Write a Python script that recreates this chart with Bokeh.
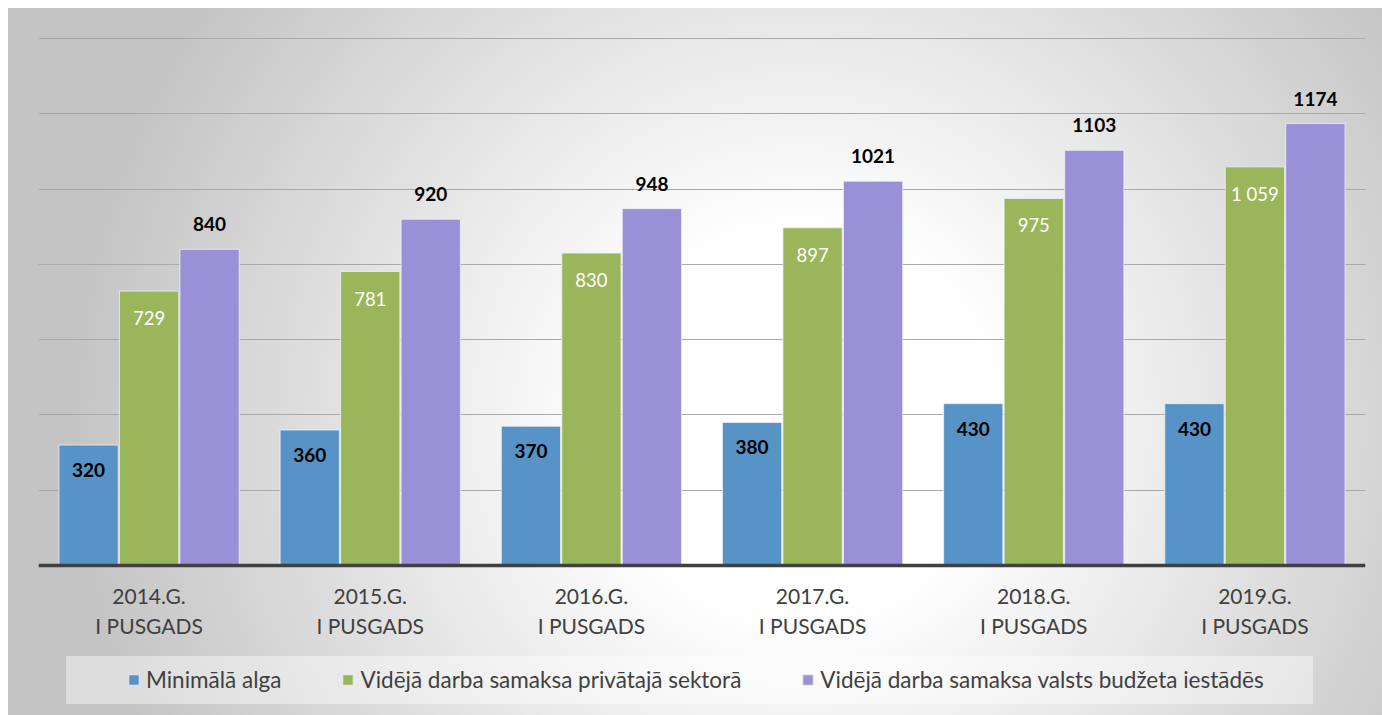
from bokeh.plotting import figure
from bokeh.models import ColumnDataSource, Range1d, FixedTicker, Legend, LegendItem, CategoricalAxis
from bokeh.transform import dodge
from bokeh.core.properties import value
from bokeh.embed import file_html
from bokeh.resources import INLINE

categories = ["2014.G.\nI PUSGADS", "2015.G.\nI PUSGADS", "2016.G.\nI PUSGADS",
              "2017.G.\nI PUSGADS", "2018.G.\nI PUSGADS", "2019.G.\nI PUSGADS"]
minimala_alga = [320, 360, 370, 380, 430, 430]
privatais = [729, 781, 830, 897, 975, 1059]
budzeta = [840, 920, 948, 1021, 1103, 1174]
privatais_labels = ["729", "781", "830", "897", "975", "1 059"]
grid_ticks = [200, 400, 600, 800, 1000, 1200, 1400]
series_names = ["Minimālā alga",
                "Vidējā darba samaksa privātajā sektorā",
                "Vidējā darba samaksa valsts budžeta iestādēs"]
colors = ["#5793c7", "#9bb65a", "#9a90d8"]

src = ColumnDataSource(dict(cat=categories, a=minimala_alga, b=privatais, c=budzeta,
                            a_lab=[str(v) for v in minimala_alga],
                            b_lab=privatais_labels,
                            c_lab=[str(v) for v in budzeta]))

W, H = 1382, 715
BASE = 565                      # pixel row of the zero line
scale = (BASE - 38) / 1400      # pixels per unit
FRAME_TOP = 36
y_max = (BASE - FRAME_TOP) / scale
y_min = -(H - BASE) / scale     # room under the zero line for the labels and the legend

bg = ("linear-gradient(rgba(255,255,255,0.42), rgba(255,255,255,0.42)) 66px 656px / 1247px 48px no-repeat, "
      "radial-gradient(circle 730px at 792px 415px, #ffffff 190px, #c4c4c4 730px) 8px 8px / 1374px 707px no-repeat, "
      "#ffffff")

p = figure(x_range=categories, y_range=Range1d(y_min, y_max), width=W, height=H,
           output_backend="svg", toolbar_location=None, y_axis_location=None, x_axis_location=None,
           min_border_left=38, min_border_right=17, min_border_top=FRAME_TOP, min_border_bottom=0,
           styles={"background": bg})
p.border_fill_color = None
p.background_fill_color = None
p.outline_line_color = None

off = 0.2735
bw = 0.268
rs = []
for key, o, col in [("a", -off, colors[0]), ("b", 0.0, colors[1]), ("c", off, colors[2])]:
    r = p.vbar(x=dodge("cat", o, range=p.x_range), top=key, width=bw, source=src,
               fill_color=col, line_color="#eef0f6", line_width=1, line_alpha=0.8)
    rs.append(r)

p.text(x=dodge("cat", -off, range=p.x_range), y="a", text="a_lab", source=src,
       y_offset=25, text_align="center", text_baseline="middle",
       text_font=value("Lato"), text_font_style="bold", text_font_size="19px", text_color="#000000")
p.text(x=dodge("cat", 0.0, range=p.x_range), y="b", text="b_lab", source=src,
       y_offset=27, text_align="center", text_baseline="middle",
       text_font=value("Lato"), text_font_size="18.5px", text_color="#ffffff")
p.text(x=dodge("cat", off, range=p.x_range), y="c", text="c_lab", source=src,
       y_offset=-25, text_align="center", text_baseline="middle",
       text_font=value("Lato"), text_font_style="bold", text_font_size="19px", text_color="#000000")

p.xgrid.grid_line_color = None
p.ygrid.ticker = FixedTicker(ticks=grid_ticks)
p.ygrid.grid_line_color = "#a9a9a9"
p.ygrid.grid_line_width = 1

ax = CategoricalAxis(fixed_location=0)
ax.axis_line_color = "#404040"
ax.axis_line_width = 3.5
ax.major_tick_line_color = None
ax.minor_tick_line_color = None
ax.major_label_standoff = 11
ax.major_label_text_font = "Lato"
ax.major_label_text_font_size = "21px"
ax.major_label_text_color = "#404040"
ax.major_label_text_line_height = 1.2
p.add_layout(ax, "below")

legend = Legend(items=[LegendItem(label=series_names[i], renderers=[rs[i]]) for i in range(3)],
                orientation="horizontal", location=(89, 22),
                glyph_width=13, glyph_height=13, label_standoff=6, spacing=60, padding=0,
                margin=0, label_height=27,
                label_text_font="Lato", label_text_font_size="22.5px", label_text_color="#404040",
                border_line_color=None, background_fill_alpha=0)
p.add_layout(legend)

open("out.html", "w").write(file_html(p, INLINE))
